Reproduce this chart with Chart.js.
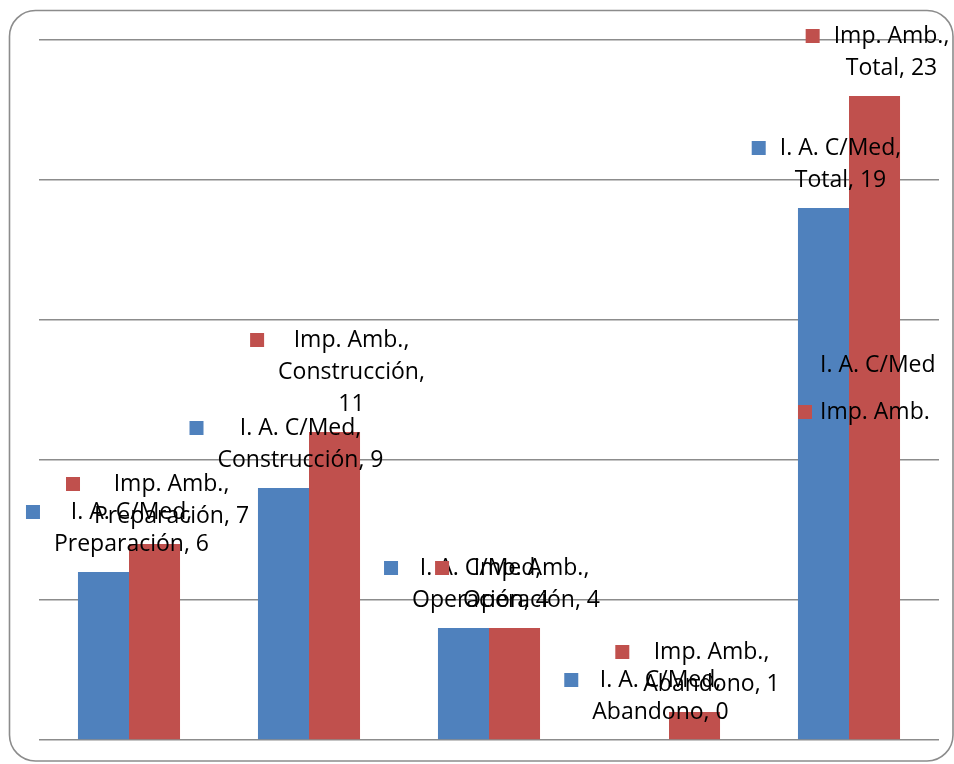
<!DOCTYPE html>
<html><head><meta charset="utf-8">
<script src="https://cdn.jsdelivr.net/npm/chart.js@4"></script>
<style>html,body{margin:0;padding:0;background:#fff;overflow:hidden}#wrap{width:954px;height:764px;position:relative}</style>
</head><body><div id="wrap"><canvas id="c" width="954" height="764"></canvas></div>
<script>
const categories = ['Preparación', 'Construcción', 'Operación', 'Abandono', 'Total'];
const seriesNames = ['I. A. C/Med', 'Imp. Amb.'];
const iaCMed = [6, 9, 4, 0, 19];
const impAmb = [7, 11, 4, 1, 23];
const yMax = 25;
const yStep = 5;

const COLORS = ['#4F81BD', '#C0504D'];
const FONT = '23px "Open Sans", sans-serif';
const LINE_H = 32;

function wrapWords(ctx, text, maxW) {
  const words = text.split(' ');
  const lines = [];
  let cur = '';
  for (const w of words) {
    const t = cur ? cur + ' ' + w : w;
    if (cur && ctx.measureText(t).width > maxW) { lines.push(cur); cur = w; }
    else cur = t;
  }
  if (cur) lines.push(cur);
  return lines;
}

const framePlugin = {
  id: 'frame',
  beforeDraw(chart) {
    const ctx = chart.ctx;
    ctx.save();
    ctx.fillStyle = '#fff';
    ctx.fillRect(0, 0, chart.width, chart.height);
    ctx.strokeStyle = '#8c8c8c';
    ctx.lineWidth = 1.6;
    const x = 9.5, y = 10.5, w = chart.width - 1 - x, h = chart.height - 3 - y, r = 26;
    ctx.beginPath();
    ctx.moveTo(x + r, y);
    ctx.lineTo(x + w - r, y);
    ctx.arcTo(x + w, y, x + w, y + r, r);
    ctx.lineTo(x + w, y + h - r);
    ctx.arcTo(x + w, y + h, x + w - r, y + h, r);
    ctx.lineTo(x + r, y + h);
    ctx.arcTo(x, y + h, x, y + h - r, r);
    ctx.lineTo(x, y + r);
    ctx.arcTo(x, y, x + r, y, r);
    ctx.stroke();
    ctx.restore();
  }
};

const labelPlugin = {
  id: 'barLabels',
  afterDatasetsDraw(chart) {
    const ctx = chart.ctx;
    ctx.save();
    ctx.font = FONT;
    ctx.fillStyle = '#000';
    ctx.textBaseline = 'middle';
    ctx.textAlign = 'center';
    const maxW = ctx.measureText('Construcción, 9').width + 4;
    chart.data.datasets.forEach((ds, di) => {
      const meta = chart.getDatasetMeta(di);
      meta.data.forEach((el, i) => {
        const rest = categories[i] + ', ' + ds.data[i];
        const lines = [ds.label + ','].concat(wrapWords(ctx, rest, maxW));
        const n = lines.length;
        const dx = (di === 0 && i === 0) ? 28 : 17;
        const cx = el.x + dx;
        const y1 = el.y - 28 - LINE_H * (n - 1);
        let boxW = 0;
        lines.forEach(l => { boxW = Math.max(boxW, ctx.measureText(l).width); });
        lines.forEach((l, k) => ctx.fillText(l, cx, y1 + k * LINE_H));
        ctx.fillStyle = COLORS[di];
        ctx.fillRect(cx - boxW / 2 - 14 - 14, y1 - 7, 14, 14);
        ctx.fillStyle = '#000';
      });
    });
    // legend
    const a = chart.chartArea;
    const lx = a.right - 141;
    const ly = [a.top + 325, a.top + 372];
    ctx.textAlign = 'left';
    seriesNames.forEach((s, k) => {
      ctx.fillStyle = COLORS[k];
      ctx.fillRect(lx, ly[k] - 7, 14, 14);
      ctx.fillStyle = '#000';
      ctx.fillText(s, lx + 22, ly[k]);
    });
    ctx.restore();
  }
};

new Chart(document.getElementById('c'), {
  type: 'bar',
  data: {
    labels: categories,
    datasets: [
      { label: seriesNames[0], data: iaCMed, backgroundColor: COLORS[0], borderWidth: 0 },
      { label: seriesNames[1], data: impAmb, backgroundColor: COLORS[1], borderWidth: 0 }
    ]
  },
  options: {
    responsive: false,
    animation: false,
    devicePixelRatio: 1,
    layout: { padding: { left: 39, right: 15, top: 40, bottom: 24 } },
    datasets: { bar: { categoryPercentage: 0.567, barPercentage: 1.0 } },
    plugins: { legend: { display: false }, tooltip: { enabled: false } },
    scales: {
      x: {
        grid: { display: false, drawTicks: false },
        border: { display: false },
        ticks: { display: false }
      },
      y: {
        min: 0, max: yMax,
        grid: { color: '#8c8c8c', lineWidth: 1.6, drawTicks: false },
        border: { display: false },
        ticks: { display: false, stepSize: yStep }
      }
    }
  },
  plugins: [framePlugin, labelPlugin]
});
</script></body></html>
